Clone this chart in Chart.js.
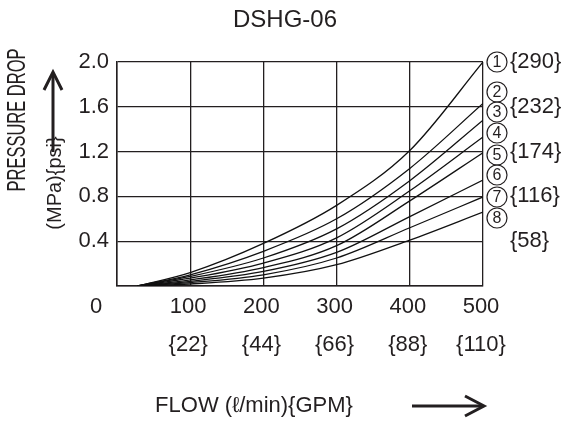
<!DOCTYPE html>
<html><head><meta charset="utf-8">
<script src="https://cdn.jsdelivr.net/npm/chart.js@4.4.1/dist/chart.umd.min.js"></script>
<style>html,body{margin:0;padding:0;background:#fff}#wrap{width:569px;height:421px}</style>
</head><body><div id="wrap"><canvas id="c" width="569" height="421"></canvas></div>
<script>
const chartTitle = 'DSHG-06';
const yTitle = 'PRESSURE DROP';
const yUnit = '(MPa){psi}';
const xTitle = 'FLOW (\u2113/min){GPM}';
const flow = [28, 100, 200, 300, 400, 500];
const curve1 = [0, 0.12, 0.38, 0.72, 1.21, 2.0];
const curve2 = [0, 0.10, 0.31, 0.60, 1.05, 1.63];
const curve3 = [0, 0.085, 0.25, 0.51, 0.94, 1.48];
const curve4 = [0, 0.07, 0.205, 0.43, 0.85, 1.33];
const curve5 = [0, 0.055, 0.165, 0.36, 0.76, 1.19];
const curve6 = [0, 0.042, 0.13, 0.30, 0.62, 0.946];
const curve7 = [0, 0.03, 0.10, 0.25, 0.52, 0.795];
const curve8 = [0, 0.018, 0.07, 0.19, 0.41, 0.66];
const curves = [curve1, curve2, curve3, curve4, curve5, curve6, curve7, curve8];
const curveNames = ['1', '2', '3', '4', '5', '6', '7', '8'];
const xTicks = [0, 100, 200, 300, 400, 500];
const gpmLabels = ['', '{22}', '{44}', '{66}', '{88}', '{110}'];
const yTicks = [0, 0.4, 0.8, 1.2, 1.6, 2.0];
const psiLabels = ['', '{58}', '{116}', '{174}', '{232}', '{290}'];

const FONT = "'Liberation Sans', Arial, sans-serif";
const INK = '#231f20';

const decor = {
  id: 'decor',
  afterDraw(chart) {
    const ctx = chart.ctx, xs = chart.scales.x, ys = chart.scales.y, ca = chart.chartArea;
    ctx.save();
    ctx.fillStyle = INK; ctx.strokeStyle = INK;
    // title
    ctx.font = '24px ' + FONT; ctx.textAlign = 'center'; ctx.textBaseline = 'middle';
    ctx.fillText(chartTitle, 285, 20);
    // x zero label
    ctx.font = '22px ' + FONT;
    ctx.fillText('0', xs.getPixelForValue(0) - 21, 307);
    // x title
    ctx.font = '22px ' + FONT;
    ctx.fillText(xTitle, 254, 406);
    // x arrow
    ctx.lineWidth = 3;
    ctx.beginPath(); ctx.moveTo(412, 406); ctx.lineTo(482, 406); ctx.stroke();
    ctx.beginPath(); ctx.moveTo(465, 396); ctx.lineTo(484, 406); ctx.lineTo(465, 416); ctx.stroke();
    // y titles
    ctx.save(); ctx.translate(18, 120); ctx.rotate(-Math.PI / 2); ctx.scale(0.66, 1);
    ctx.font = '25px ' + FONT; ctx.fillText(yTitle, 0, 0); ctx.restore();
    ctx.save(); ctx.translate(55, 183); ctx.rotate(-Math.PI / 2);
    ctx.font = '20px ' + FONT; ctx.fillText(yUnit, 0, 0); ctx.restore();
    // y arrow
    ctx.lineWidth = 3;
    ctx.beginPath(); ctx.moveTo(53, 152); ctx.lineTo(53, 74); ctx.stroke();
    ctx.beginPath(); ctx.moveTo(44, 90); ctx.lineTo(53, 72); ctx.lineTo(62, 90); ctx.stroke();
    // psi labels
    ctx.font = '22px ' + FONT; ctx.textAlign = 'left';
    yTicks.forEach((v, i) => { if (psiLabels[i]) ctx.fillText(psiLabels[i], ca.right + 27, ys.getPixelForValue(v)); });
    // circled curve numbers
    const offs = [0, 30, 50, 71, 93, 113, 135, 156];
    ctx.lineWidth = 1.2; ctx.textAlign = 'center';
    ctx.font = '16px ' + FONT;
    curveNames.forEach((n, i) => {
      const cx = ca.right + 14, cy = ca.top + offs[i];
      ctx.beginPath(); ctx.arc(cx, cy, 10, 0, Math.PI * 2); ctx.stroke();
      ctx.fillText(n, cx, cy + 1);
    });
    ctx.restore();
  }
};

new Chart(document.getElementById('c'), {
  type: 'line',
  data: {
    datasets: curves.map((c, i) => ({
      label: curveNames[i],
      data: flow.map((f, j) => ({ x: f, y: c[j] })),
      borderColor: '#111', borderWidth: 1.3, pointRadius: 0,
      cubicInterpolationMode: 'monotone', fill: false
    }))
  },
  options: {
    responsive: false, animation: false,
    layout: { padding: { top: 62, right: 86, bottom: 0, left: 0 } },
    plugins: { legend: { display: false }, tooltip: { enabled: false }, title: { display: false } },
    scales: {
      x: {
        type: 'linear', min: 0, max: 500,
        afterBuildTicks: s => { s.ticks = xTicks.map(v => ({ value: v })); },
        afterFit: s => { s.height = 135; },
        grid: { color: INK, lineWidth: 1.3, drawTicks: false },
        border: { color: INK, width: 1.5 },
        ticks: {
          autoSkip: false, maxRotation: 0, padding: 2, color: INK, labelOffset: -2,
          font: { family: FONT, size: 22, lineHeight: 1.73 },
          callback: (v) => { const i = xTicks.indexOf(v); return v === 0 ? '' : [String(v), gpmLabels[i]]; }
        }
      },
      y: {
        type: 'linear', min: 0, max: 2.0,
        afterBuildTicks: s => { s.ticks = yTicks.map(v => ({ value: v })); },
        afterFit: s => { s.width = 117; },
        grid: { color: INK, lineWidth: 1.3, drawTicks: false },
        border: { color: INK, width: 1.5 },
        ticks: {
          padding: 8, color: INK,
          font: { family: FONT, size: 22 },
          callback: (v) => v === 0 ? '' : v.toFixed(1)
        }
      }
    }
  },
  plugins: [decor]
});
</script></body></html>
